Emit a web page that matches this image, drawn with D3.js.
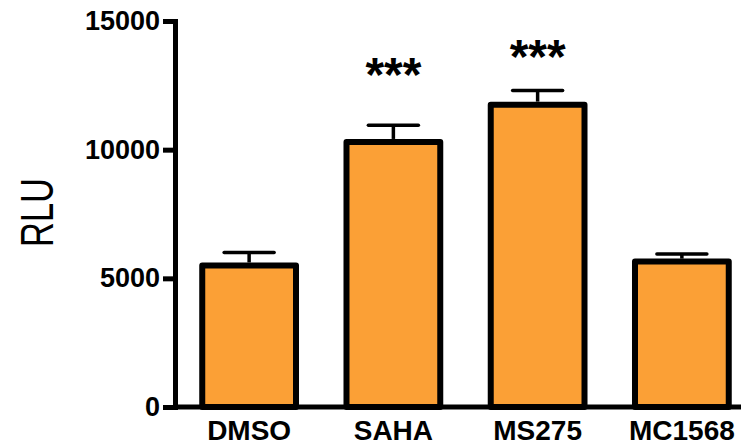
<!DOCTYPE html>
<html>
<head>
<meta charset="utf-8">
<script src="https://cdn.jsdelivr.net/npm/d3@7"></script>
<style>
  html, body { margin: 0; padding: 0; background: #fff; }
  svg { display: block; }
  text { font-family: "Liberation Sans", Arial, Helvetica, sans-serif; fill: #000; }
</style>
</head>
<body>
<svg id="chart" width="741" height="445"></svg>
<script>
// Luciferase readout per treatment
const categories = ["DMSO", "SAHA", "MS275", "MC1568"];
const meanRLU    = [5500, 10300, 11750, 5650];
const errUpper   = [6000, 10950, 12300, 5950];
const sigLabels  = ["", "***", "***", ""];
const sigLevels  = [null, 12900, 13600, null];
const yTicks     = [0, 5000, 10000, 15000];

const svg = d3.select("#chart");
const barFill = "#FBA036";

const x = d3.scaleBand()
  .domain(categories)
  .range([177, 754])
  .paddingInner(0.35)
  .paddingOuter(0.175);

const y = d3.scaleLinear()
  .domain([0, 15000])
  .range([407, 21]);

// Bars
svg.append("g")
  .selectAll("rect")
  .data(categories)
  .join("rect")
  .attr("x", d => x(d))
  .attr("y", (d, i) => y(meanRLU[i]))
  .attr("width", x.bandwidth())
  .attr("height", (d, i) => y(0) - y(meanRLU[i]))
  .attr("fill", barFill)
  .attr("stroke", "#000")
  .attr("stroke-width", 6)
  .attr("stroke-linejoin", "round");

// Upper error whiskers
const err = svg.append("g").attr("stroke", "#000").attr("stroke-width", 3.5);
categories.forEach((c, i) => {
  const cx = x(c) + x.bandwidth() / 2;
  err.append("line")
    .attr("x1", cx).attr("x2", cx)
    .attr("y1", y(meanRLU[i]) - 3).attr("y2", y(errUpper[i]));
  err.append("line")
    .attr("x1", cx - 25).attr("x2", cx + 25)
    .attr("y1", y(errUpper[i])).attr("y2", y(errUpper[i]))
    .attr("stroke-linecap", "round");
});

// Significance markers
svg.append("g")
  .selectAll("text")
  .data(categories.filter((c, i) => sigLabels[i]))
  .join("text")
  .attr("x", d => x(d) + x.bandwidth() / 2)
  .attr("y", d => y(sigLevels[categories.indexOf(d)]) + 16)
  .attr("text-anchor", "middle")
  .attr("textLength", 56)
  .attr("lengthAdjust", "spacingAndGlyphs")
  .style("font-size", "48px")
  .style("font-weight", "bold")
  .text(d => sigLabels[categories.indexOf(d)]);

// Y axis
const yAxis = svg.append("g")
  .attr("transform", "translate(175,0)")
  .call(d3.axisLeft(y).tickValues(yTicks).tickFormat(d3.format("d")).tickSize(12).tickSizeOuter(0).tickPadding(3));
yAxis.select(".domain").attr("stroke-width", 5).attr("stroke-linecap", "square");
yAxis.selectAll(".tick line").attr("stroke-width", 5);
yAxis.selectAll(".tick text")
  .style("font-size", "27px")
  .style("font-weight", "bold")
  .attr("font-family", null);

// X axis
const xAxis = svg.append("g")
  .attr("transform", `translate(0,${y(0)})`)
  .call(d3.axisBottom(x).tickSize(0).tickSizeOuter(0).tickPadding(13));
xAxis.select(".domain").attr("stroke-width", 5).attr("d", `M173,0H760`);
xAxis.selectAll(".tick text")
  .style("font-size", "28px")
  .style("font-weight", "bold")
  .attr("font-family", null);

// Y axis title
svg.append("text")
  .attr("transform", "translate(53,212.5) rotate(-90)")
  .attr("text-anchor", "middle")
  .attr("textLength", 69)
  .attr("lengthAdjust", "spacingAndGlyphs")
  .style("font-size", "46px")
  .text("RLU");
</script>
</body>
</html>
